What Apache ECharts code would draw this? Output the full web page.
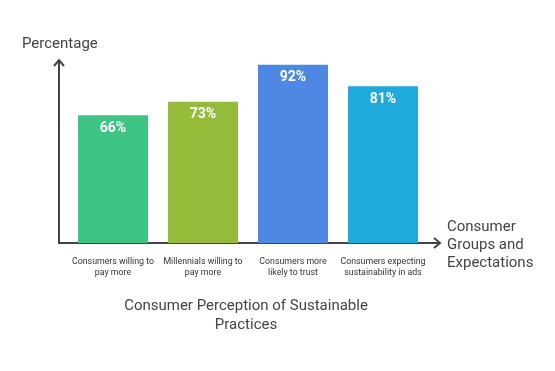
<!DOCTYPE html>
<html><head><meta charset="utf-8">
<script src="https://cdn.jsdelivr.net/npm/echarts@6/dist/echarts.min.js"></script>
<style>html,body{margin:0;padding:0;background:#fff}#c{width:555px;height:371px}</style>
</head><body><div id="c"></div>
<script>
const categories = ["Consumers willing to\npay more","Millennials willing to\npay more","Consumers more\nlikely to trust","Consumers expecting\nsustainability in ads"];
const values = [66, 73, 92, 81];
const colors = ["#3EC584","#94BC3A","#4F88E3","#20AADB"];
const yAxisName = "Percentage";
const xAxisName = "Consumer\nGroups and\nExpectations";
const chartTitle = "Consumer Perception of Sustainable\nPractices";

const chart = echarts.init(document.getElementById('c'));
const ff = 'Roboto, "Noto Sans", sans-serif';
const gl = 68, gr = 428, gt = 60, gb = 243;
chart.setOption({
  animation:false,
  grid:{left:gl, top:gt, width:gr-gl, height:gb-gt, containLabel:false},
  xAxis:{type:'category', data:categories, axisLine:{show:false}, axisTick:{show:false},
    axisLabel:{color:'#333', fontSize:8.8, fontFamily:ff, margin:13, lineHeight:11, interval:0}},
  yAxis:{type:'value', min:0, max:94.5, show:false},
  series:[{type:'bar', barWidth:70,
    data: values.map((v,i)=>({value:v, itemStyle:{color:colors[i]}})),
    label:{show:true, position:'insideTop', distance:6, color:'#fff', fontWeight:'bold', fontSize:14, fontFamily:ff, formatter:'{c}%'}}],
  graphic:[
    {type:'polyline', shape:{points:[[59,60],[59,243],[440,243]]}, style:{stroke:'#444', lineWidth:2, fill:null}},
    {type:'polyline', shape:{points:[[54,66],[59,60],[64,66]]}, style:{stroke:'#444', lineWidth:2, fill:null}},
    {type:'polyline', shape:{points:[[434,238],[440,243],[434,248]]}, style:{stroke:'#444', lineWidth:2, fill:null}},
    {type:'text', left:22, top:37, style:{text:yAxisName, fill:'#444', font:'15px '+ff}},
    {type:'text', left:447, top:218, style:{text:xAxisName, fill:'#444', font:'15px '+ff, lineHeight:18}},
    {type:'text', x:246, y:297, style:{text:chartTitle, fill:'#444', font:'15px '+ff, lineHeight:19, textAlign:'center'}}
  ]
});
</script></body></html>
